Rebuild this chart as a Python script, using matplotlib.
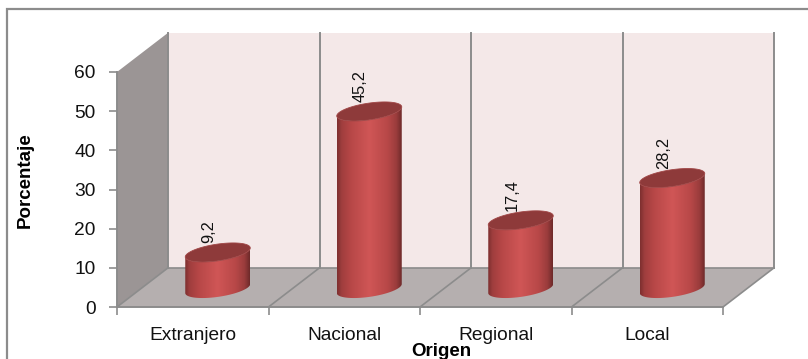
import numpy as np
import matplotlib
matplotlib.use("Agg")
import matplotlib.pyplot as plt
from matplotlib.patches import Polygon, Rectangle
from matplotlib.path import Path
from matplotlib.colors import LinearSegmentedColormap

categories = ["Extranjero", "Nacional", "Regional", "Local"]
values = [9.2, 45.2, 17.4, 28.2]
value_labels = ["9,2", "45,2", "17,4", "28,2"]
y_ticks = [0, 10, 20, 30, 40, 50, 60]

W, H = 808, 359
LEFT, RIGHT, TOP, BOTTOM = 117, 723, 72, 307

plt.rcParams["font.family"] = ["Liberation Sans", "DejaVu Sans"]

fig = plt.figure(figsize=(W / 100, H / 100), dpi=100)
# chart frame, only the left and top edges fall inside the canvas
fig.patches.append(Rectangle((6.5 / W, -0.1), 1.0, 1 - 9.5 / H + 0.1, transform=fig.transFigure,
                             facecolor="white", edgecolor="#8c8c8c", linewidth=1.6, zorder=-1))

ax = fig.add_axes([LEFT / W, 1 - BOTTOM / H, (RIGHT - LEFT) / W, (BOTTOM - TOP) / H])
ax.patch.set_visible(False)

# depth of the box in data units
px_x = 4 / (RIGHT - LEFT)
px_y = 60 / (BOTTOM - TOP)
dx = 51 * px_x
dy = 10

ax.add_patch(Polygon([(dx, dy), (4 + dx, dy), (4 + dx, 60 + dy), (dx, 60 + dy)],
                     facecolor="#f4e8e8", edgecolor="none", clip_on=False, zorder=1))
ax.add_patch(Polygon([(0, 0), (dx, dy), (dx, 60 + dy), (0, 60)],
                     facecolor="#9b9595", edgecolor="none", clip_on=False, zorder=1))
ax.add_patch(Polygon([(0, 0), (4, 0), (4 + dx, dy), (dx, dy)],
                     facecolor="#b5afaf", edgecolor="none", clip_on=False, zorder=1))

# gridlines on the back wall and across the floor
for i in range(5):
    ax.plot([i + dx, i + dx], [dy, 60 + dy], color="#8c8c8c", lw=1.4, clip_on=False, zorder=2)
    ax.plot([i, i + dx], [0, dy], color="#8c8c8c", lw=1.2, clip_on=False, zorder=2)
ax.plot([dx, 4 + dx], [dy, dy], color="#8c8c8c", lw=1.2, clip_on=False, zorder=2)

# cylinders
rx = 32.5 * px_x
ry = 8.4 * px_y
shear = 4.5 * px_y
base_dx = 25 * px_x
base_y = 18.5 * px_y
t = np.linspace(0, 2 * np.pi, 120)
stops = [(0.0, "#7e3030"), (0.07, "#a03e3e"), (0.22, "#b84848"), (0.5, "#d05656"),
         (0.78, "#b84848"), (0.92, "#9a3c3c"), (1.0, "#6e2a2a")]
cmap = LinearSegmentedColormap.from_list("cyl", stops)
grad = np.linspace(0, 1, 128).reshape(1, -1)

for i, v in enumerate(values):
    cx = i + 0.5 + base_dx
    ex = cx + rx * np.cos(t)
    ey = ry * np.sin(t) + shear * np.cos(t)

    # body outline: lower arc of the base, then the same arc lifted to the bar height
    low = np.sin(t) <= 0
    order = np.argsort(ex[low])
    bx = ex[low][order]
    by = ey[low][order] + base_y
    body = np.vstack([np.column_stack([bx, by]),
                      np.column_stack([bx[::-1], by[::-1] + v])])
    im = ax.imshow(grad, cmap=cmap, aspect="auto", zorder=3,
                   extent=[cx - rx, cx + rx, base_y - 3 * ry, base_y + v + 3 * ry])
    im.set_clip_path(Path(body), transform=ax.transData)

    ax.fill(ex, ey + base_y + v, facecolor="#8e3a3a", edgecolor="#a04646", lw=0.6,
            clip_on=False, zorder=4)
    ax.text(cx - 9 * px_x, base_y + v + 9.5 * px_y, value_labels[i], rotation=90,
            ha="center", va="bottom", fontsize=11.8, color="#111111", zorder=5)

ax.set_xlim(0, 4)
ax.set_ylim(0, 60)

for side in ["top", "right"]:
    ax.spines[side].set_visible(False)
for side in ["left", "bottom"]:
    ax.spines[side].set_color("#8c8c8c")
    ax.spines[side].set_linewidth(1.4)

ax.set_yticks(y_ticks)
ax.set_xticks(range(5))
ax.set_xticklabels([])
ax.tick_params(axis="both", color="#8c8c8c", width=1.2, length=6)
ax.tick_params(axis="y", labelsize=13.8, labelcolor="#111111", pad=9.5)

for i, name in enumerate(categories):
    ax.text(i + 0.5, -7.4, name, ha="center", va="center", fontsize=13.8, color="#111111")

fig.text(25 / W, 1 - 180 / H, "Porcentaje", rotation=90, ha="center", va="center",
         fontsize=13.5, fontweight="bold", color="black")
fig.text(441 / W, 1 - 352 / H, "Origen", ha="center", va="center",
         fontsize=13.5, fontweight="bold", color="black")

fig.savefig("out.png", dpi=100)
